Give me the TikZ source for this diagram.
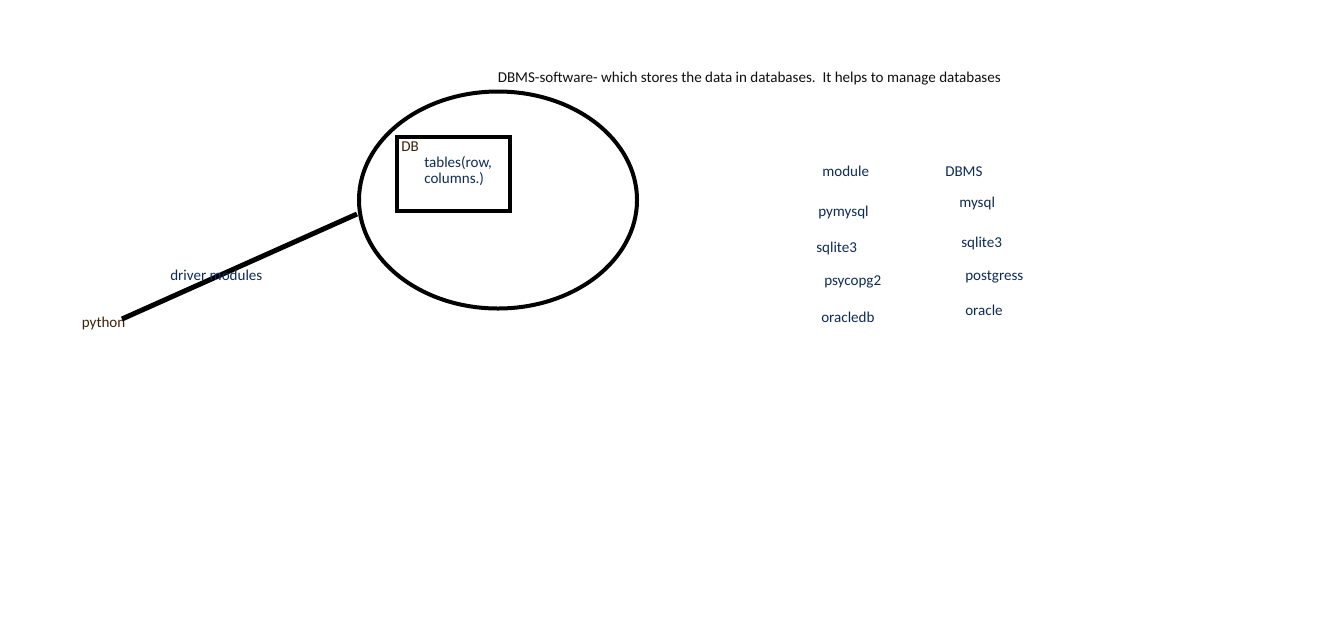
\documentclass[tikz,border=0pt]{standalone}
\usepackage{fontspec}
\usetikzlibrary{shapes.geometric}
\setmainfont{Carlito}
\definecolor{navytext}{HTML}{0F2C55}
\definecolor{browntext}{HTML}{3E2208}
\definecolor{darktext}{HTML}{111111}
\begin{document}
\begin{tikzpicture}[x=0.75pt,y=-0.75pt,
  lbl/.style={anchor=base west,inner sep=0pt,font=\fontsize{11.3}{13}\selectfont,text=navytext},
  heavy/.style={line width=3pt,draw=black}]
\useasboundingbox[fill=white] (0,0) rectangle (1344,619);
% DBMS ellipse
\node[heavy,ellipse,minimum width=208.5pt,minimum height=162.75pt,inner sep=0pt] (dbms) at (498,200) {};
% DB box
\node[heavy,rectangle,minimum width=84.75pt,minimum height=55.5pt,inner sep=0pt] (db) at (453.5,174) {};
\node[lbl,text=browntext] (dblbl) at (401,151) {DB};
\node[lbl] (tab1) at (424,167) {tables(row,};
\node[lbl] (tab2) at (424,183) {columns.)};
% heading
\node[lbl,text=darktext] (head) at (497.5,82) {DBMS-software- which stores the data in databases.\ \ It helps to manage databases};
% python and connector
\node[lbl,text=browntext] (python) at (81.5,327) {python};
\coordinate (pyend) at (122,319);
\coordinate (dbmsend) at (357,214);
\draw[line width=3.75pt,black] (pyend) -- (dbmsend);
\node[lbl] (driver) at (170,280) {driver modules};
% table of modules
\node[lbl] (module) at (822,176) {module};
\node[lbl] (dbmsh) at (945,176) {DBMS};
\node[lbl] (pymysql) at (818,216) {pymysql};
\node[lbl] (mysql) at (959,207) {mysql};
\node[lbl] (sqlitea) at (816,252) {sqlite3};
\node[lbl] (sqliteb) at (961,247) {sqlite3};
\node[lbl] (psycopg) at (824,285) {psycopg2};
\node[lbl] (postgress) at (965,280) {postgress};
\node[lbl] (oracledb) at (821,322) {oracledb};
\node[lbl] (oracle) at (965,315) {oracle};
\end{tikzpicture}
\end{document}
